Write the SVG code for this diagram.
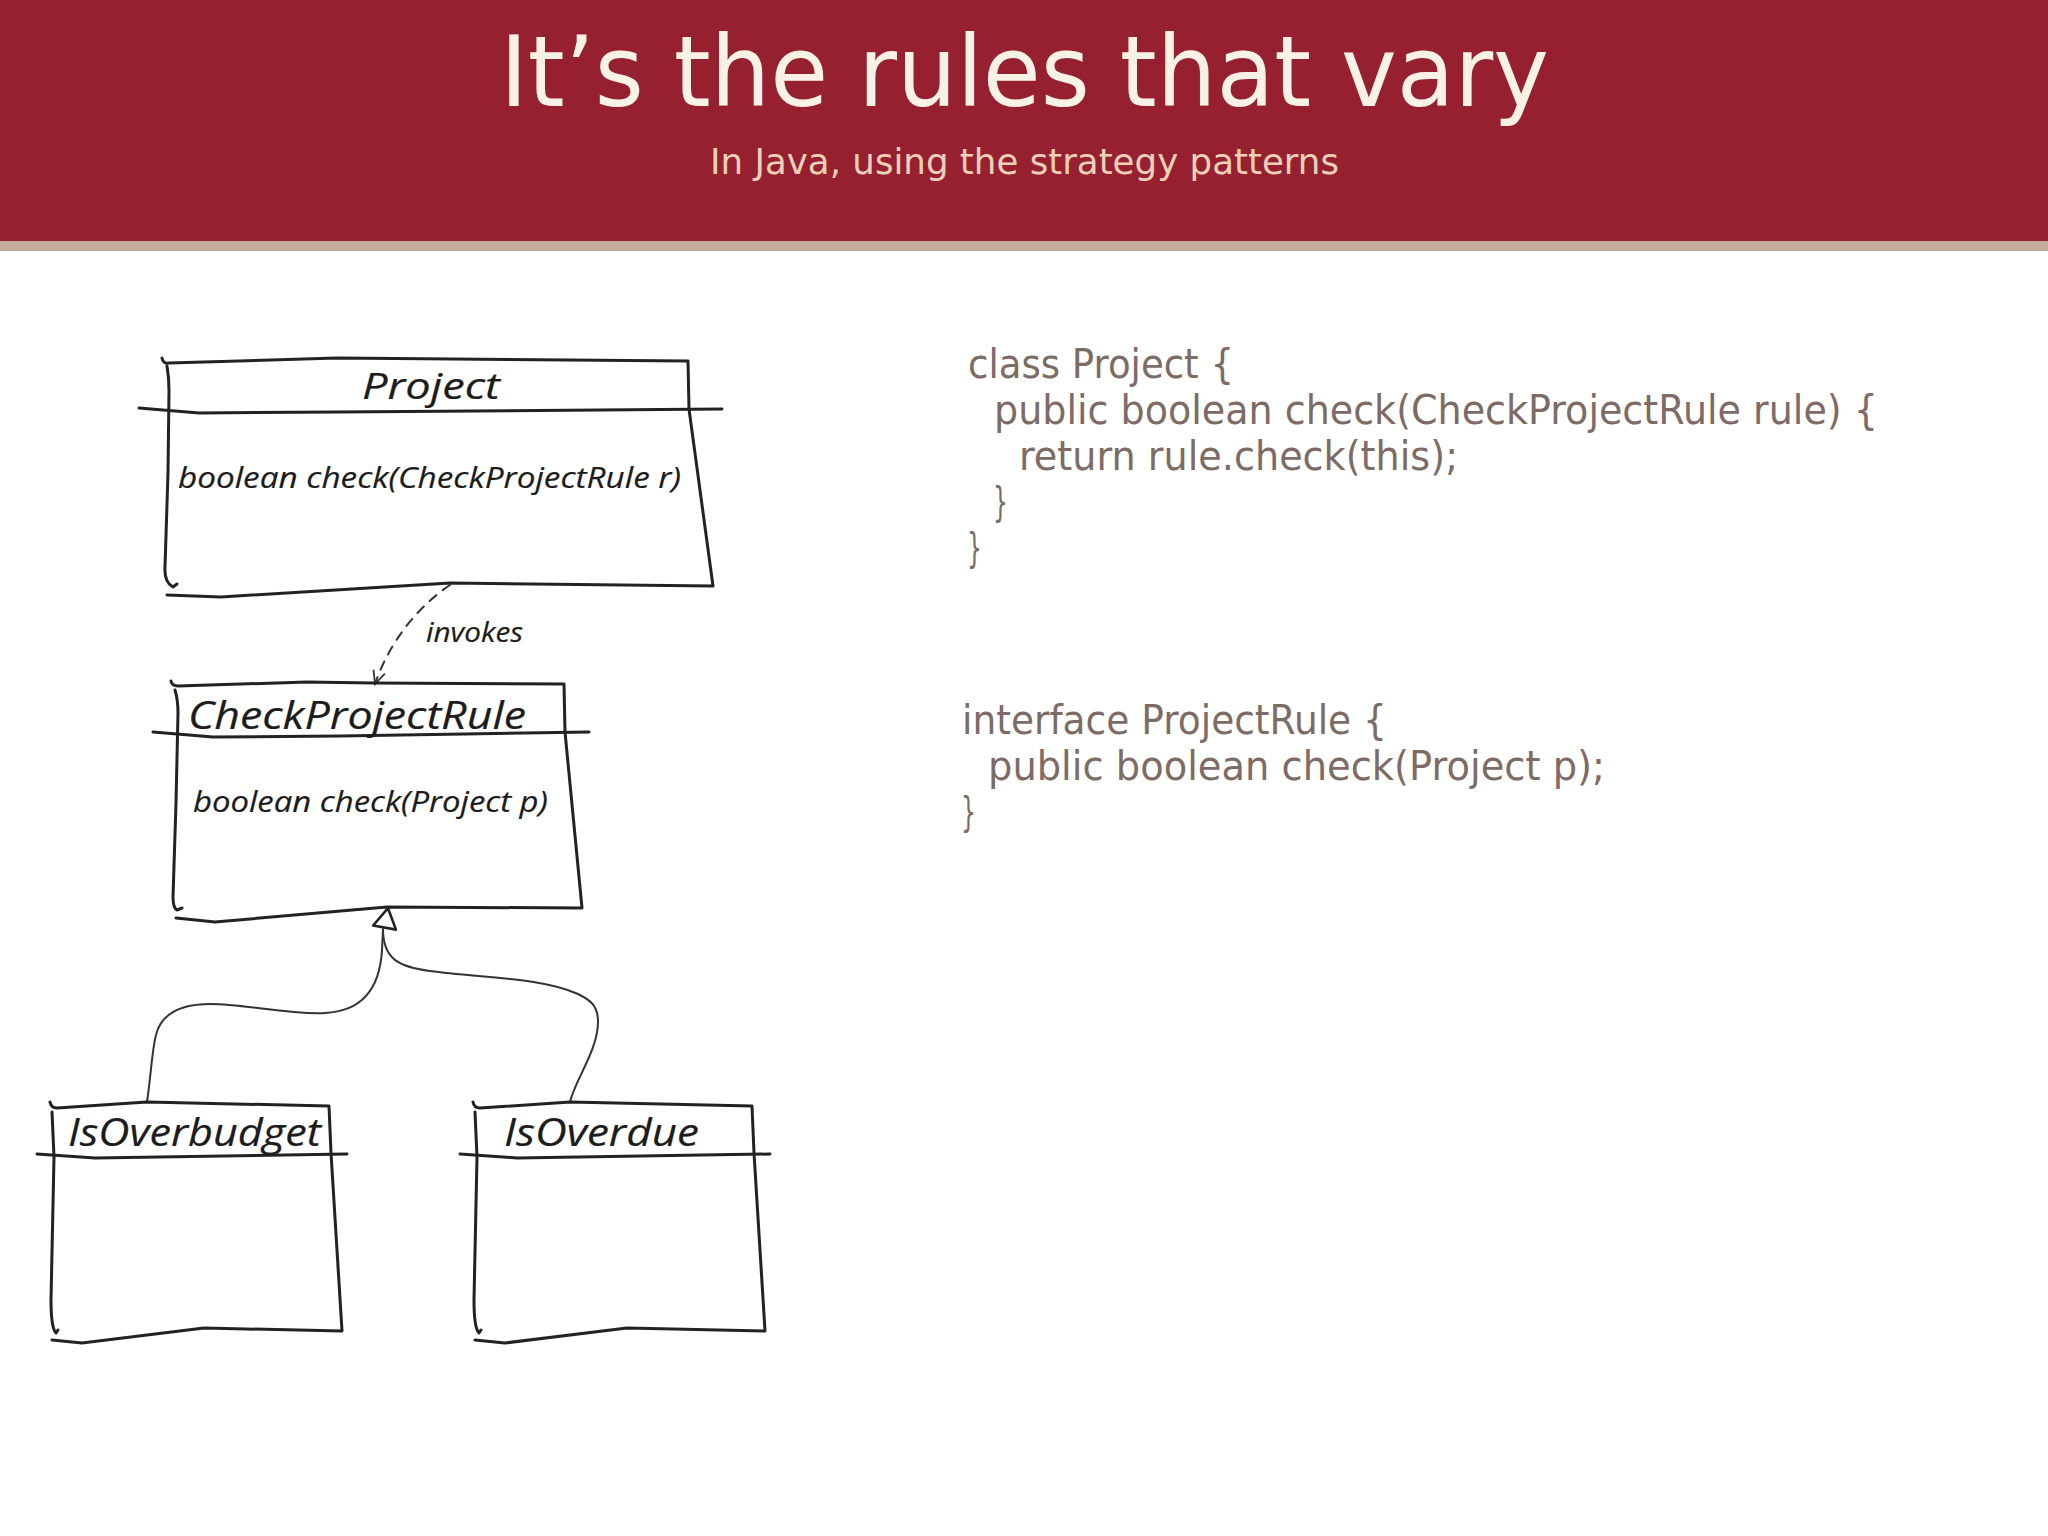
<svg xmlns="http://www.w3.org/2000/svg" width="2048" height="1536" viewBox="0 0 2048 1536">
<style>
.title{font:98px "DejaVu Sans",sans-serif;fill:#f8f1e5}
.sub{font:36px "DejaVu Sans",sans-serif;fill:#ecd0b8}
.code{font:41px "DejaVu Sans",sans-serif;fill:#7d6b66}
.hand{font-family:"Open Sans","Liberation Sans",sans-serif;font-style:italic;fill:#1c1c1c;stroke:#1c1c1c;stroke-width:.2}
.box{fill:none;stroke:#222;stroke-width:3;stroke-linecap:round;stroke-linejoin:round}
.link{fill:none;stroke:#333;stroke-width:2;stroke-linecap:round}
</style>
<defs>
<marker id="open" markerUnits="userSpaceOnUse" markerWidth="32" markerHeight="32" viewBox="-24 -16 32 32" refX="0" refY="0" orient="auto"><path d="M-13 -6L0 0L-13 6" fill="none" stroke="#333" stroke-width="1.8"/></marker>
<marker id="tri" markerUnits="userSpaceOnUse" markerWidth="32" markerHeight="32" viewBox="-4 -16 32 32" refX="0" refY="0" orient="auto"><path d="M0 13L21 4L3 -10Z" fill="#fff" stroke="#222" stroke-width="2.6" stroke-linejoin="round"/></marker>
</defs>
<rect width="2048" height="1536" fill="#fff"/>
<g id="header">
<rect width="2048" height="241" fill="#962030"/>
<rect y="241" width="2048" height="10" fill="#c4ac9a"/>
<text class="title" x="500" y="106" textLength="1049" lengthAdjust="spacingAndGlyphs">It’s the rules that vary</text>
<text class="sub" x="710" y="174" textLength="629" lengthAdjust="spacingAndGlyphs">In Java, using the strategy patterns</text>
</g>
<g id="code">
<text class="code" x="968" y="378" textLength="266" lengthAdjust="spacingAndGlyphs">class Project {</text>
<text class="code" x="994" y="424" textLength="884" lengthAdjust="spacingAndGlyphs">public boolean check(CheckProjectRule rule) {</text>
<text class="code" x="1019" y="470" textLength="439" lengthAdjust="spacingAndGlyphs">return rule.check(this);</text>
<text class="code" x="993" y="516" textLength="15" lengthAdjust="spacingAndGlyphs">}</text>
<text class="code" x="967" y="562" textLength="15" lengthAdjust="spacingAndGlyphs">}</text>
<text class="code" x="962" y="734" textLength="425" lengthAdjust="spacingAndGlyphs">interface ProjectRule {</text>
<text class="code" x="988" y="780" textLength="617" lengthAdjust="spacingAndGlyphs">public boolean check(Project p);</text>
<text class="code" x="961" y="826" textLength="15" lengthAdjust="spacingAndGlyphs">}</text>
</g>
<g id="connectors">
<path class="link" d="M450 585C420 605 390 640 375 684" stroke-dasharray="9 8" marker-end="url(#open)"/>
<path class="link" d="M147 1102C151 1075 152 1050 156 1035C161 1014 180 1004 211 1004C245 1004 290 1015 325 1013C365 1011 380 985 382 950L383 929" marker-end="url(#tri)"/>
<path class="link" d="M570 1102C575 1080 598 1050 598 1022C598 1005 590 1000 578 994C540 977 480 978 430 971C400 967 383 960 383 929"/>
</g>
<g id="node-project">
<path class="box" d="M162 358Q163 364 169 363L337 358L688 361L689 409L713 586L450 583L221 597L167 595"/>
<path class="box" d="M167 366Q169 378 169 390L168 473L165 567Q164 582 173 587L177 584"/>
<path class="box" d="M139 408L199 413L337 412L722 409"/>
<text class="hand" x="362" y="399" font-size="36" textLength="138" lengthAdjust="spacingAndGlyphs">Project</text>
<text class="hand" x="178" y="488" font-size="30" textLength="503" lengthAdjust="spacingAndGlyphs">boolean check(CheckProjectRule r)</text>
</g>
<text id="label-invokes" class="hand" x="426" y="642" font-size="28" textLength="97" lengthAdjust="spacingAndGlyphs">invokes</text>
<g id="node-checkprojectrule">
<path class="box" d="M171 681Q172 686 178 686L307 682L373 683L564 684L565 732L582 908L387 907L215 922L176 918"/>
<path class="box" d="M175 690Q178 700 178 713L176 803L173 897Q173 908 177 910L182 908"/>
<path class="box" d="M153 732L213 737L340 736L589 732"/>
<text class="hand" x="188" y="729" font-size="38" textLength="338" lengthAdjust="spacingAndGlyphs">CheckProjectRule</text>
<text class="hand" x="193" y="812" font-size="30" textLength="355" lengthAdjust="spacingAndGlyphs">boolean check(Project p)</text>
</g>
<g id="node-isoverbudget">
<path class="box" d="M50 1102Q51 1108 57 1108L147 1102L329 1106L331 1153L342 1331L204 1328L82 1343L52 1340"/>
<path class="box" d="M52 1112L54 1157L51 1300Q51 1328 56 1333L58 1330"/>
<path class="box" d="M37 1154L95 1158L347 1154"/>
<text class="hand" x="68" y="1146" font-size="38" textLength="253" lengthAdjust="spacingAndGlyphs">IsOverbudget</text>
</g>
<g id="node-isoverdue">
<path class="box" d="M473 1102Q474 1108 480 1108L570 1102L752 1106L754 1153L765 1331L627 1328L505 1343L475 1340"/>
<path class="box" d="M475 1112L477 1157L474 1300Q474 1328 479 1333L481 1330"/>
<path class="box" d="M460 1154L517 1158L770 1154"/>
<text class="hand" x="504" y="1146" font-size="38" textLength="195" lengthAdjust="spacingAndGlyphs">IsOverdue</text>
</g>
</svg>
